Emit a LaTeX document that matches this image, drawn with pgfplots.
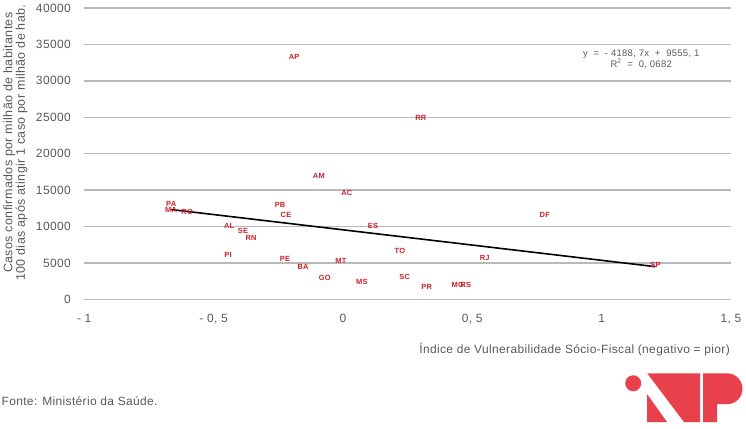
\documentclass[border=0pt]{standalone}
\usepackage{pgfplots}
\pgfplotsset{compat=1.18}
\usepackage{fontspec}
\setmainfont{Liberation Sans}[LetterSpace=3]
\definecolor{gridgray}{RGB}{185,185,185}
\definecolor{txtgray}{RGB}{89,89,89}
\definecolor{lblred}{RGB}{204,32,39}
\definecolor{logored}{RGB}{232,65,75}

\pgfplotstableread{
x y label
-0.189 33300 AP
0.301 24900 RR
-0.093 17000 AM
0.015 14650 AC
-0.664 13150 PA
-0.664 12350 MA
-0.602 11950 RO
-0.243 13000 PB
-0.220 11650 CE
-0.440 10150 AL
-0.386 9450 SE
-0.355 8500 RN
-0.444 6050 PI
-0.224 5620 PE
-0.154 4400 BA
-0.070 2900 GO
-0.008 5350 MT
0.073 2350 MS
0.116 10150 ES
0.780 11650 DF
0.220 6700 TO
0.548 5750 RJ
0.239 3150 SC
0.324 1650 PR
0.444 1950 MG
0.475 2050 RS
1.208 4700 SP
}\estados

\begin{document}
\begin{tikzpicture}[x=1pt,y=1pt]
\path (0,0) rectangle (746,429);
\begin{axis}[
  at={(83pt,129pt)}, anchor=south west,
  scale only axis, width=648pt, height=292pt,
  xmin=-1, xmax=1.5, ymin=0, ymax=40000,
  axis line style={draw=none},
  major tick length=0pt,
  xtick={-1,-0.5,0,0.5,1,1.5},
  xticklabels={{- 1},{- 0, 5},{0},{0, 5},{1},{1, 5}},
  ytick={0,5000,...,40000},
  ymajorgrids=true,
  grid style={gridgray, line width=1.5pt},
  /pgf/number format/assume math mode=true,
  /pgf/number format/1000 sep={},
  scaled y ticks=false,
  tick label style={font=\fontsize{12}{13}\selectfont, text=txtgray},
  xticklabel style={yshift=-11pt},
  yticklabel style={xshift=-10pt},
  clip=false,
]
\addplot[draw=none, mark=none, nodes near coords, point meta=explicit symbolic,
  nodes near coords align={center},
  every node near coord/.append style={anchor=center, font=\fontsize{7.5}{8}\selectfont\bfseries, text=lblred, inner sep=0pt}]
  table[x=x, y=y, meta=label] {\estados};
\addplot[black, line width=1.6pt, mark=none] coordinates {(-0.664,12336.4) (1.208,4495.2)};
\end{axis}
% regression text
\node[font=\fontsize{9.5}{11}\selectfont, text=txtgray, align=center] at (641,429-59)
  {y\ \ =\ \ - 4188, 7x\ \ +\ \ 9555, 1\\R\textsuperscript{2}\ \ =\ \ 0, 0682};
% axis titles
\node[rotate=90, font=\fontsize{12.5}{12.5}\selectfont, text=txtgray, align=center] at (14,429-143)
  {Casos confirmados por milhão de habitantes\\100 dias após atingir 1 caso por milhão de hab.};
\node[anchor=east, font=\fontsize{12}{13}\selectfont, text=txtgray, inner sep=0pt] at (730,429-350)
  {Índice de Vulnerabilidade Sócio-Fiscal (negativo = pior)};
\node[anchor=west, font=\fontsize{12}{13}\selectfont, text=txtgray, inner sep=0pt] at (0,429-402)
  {Fonte: Ministério da Saúde.};
% logo
\fill[logored] (633,429-384) circle (8);
\fill[logored] (647,429-374) -- (700,429-374) -- (700,429-423) -- (684,429-423) -- cycle;
\fill[logored] (647,429-395) -- (667,429-423) -- (647,429-423) -- cycle;
\fill[logored] (703,429-374) -- (727,429-374) arc (90:-90:15.5) -- (717,429-405) -- (717,429-423) -- (703,429-423) -- cycle;
\end{tikzpicture}
\end{document}
